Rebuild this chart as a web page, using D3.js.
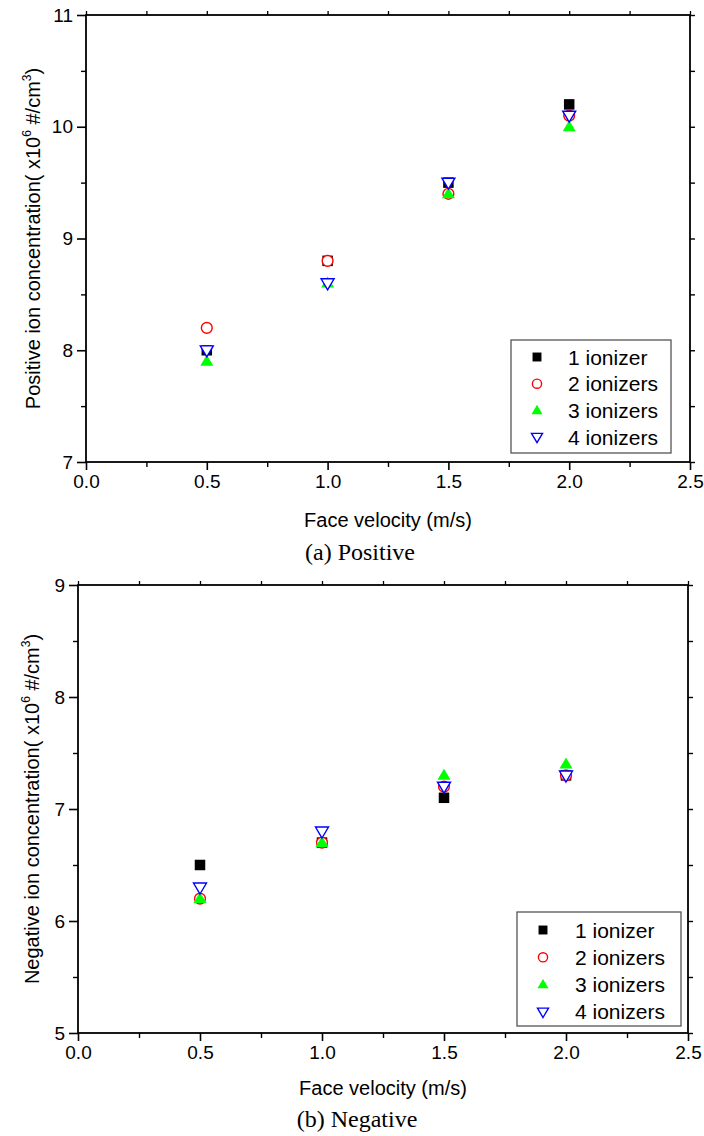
<!DOCTYPE html>
<html>
<head>
<meta charset="utf-8">
<script src="https://cdn.jsdelivr.net/npm/d3@7"></script>
<style>
html,body{margin:0;padding:0;background:#fff;}
svg{display:block;}
</style>
</head>
<body>
<svg id="chart" width="704" height="1136"></svg>
<script>
// ---- data ----
const velocities = [0.5, 1.0, 1.5, 2.0];
const seriesNames = ["1 ionizer", "2 ionizers", "3 ionizers", "4 ionizers"];
const positive1 = [8.0, 8.8, 9.5, 10.2];
const positive2 = [8.2, 8.8, 9.4, 10.1];
const positive3 = [7.9, 8.6, 9.4, 10.0];
const positive4 = [8.0, 8.6, 9.5, 10.1];
const negative1 = [6.5, 6.7, 7.1, 7.3];
const negative2 = [6.2, 6.7, 7.2, 7.3];
const negative3 = [6.2, 6.7, 7.3, 7.4];
const negative4 = [6.3, 6.8, 7.2, 7.3];
const xTicks = [0.0, 0.5, 1.0, 1.5, 2.0, 2.5];
const posYTicks = [7, 8, 9, 10, 11];
const negYTicks = [5, 6, 7, 8, 9];

const SANS = "'Liberation Sans', Arial, sans-serif";
const SERIF = "'Liberation Serif', 'Times New Roman', serif";
const svg = d3.select("#chart");

const markerStyles = [
  {type: "square", fill: "#000", stroke: "none"},
  {type: "circle", fill: "#fff", stroke: "#ff0000"},
  {type: "up", fill: "#00ff00", stroke: "none"},
  {type: "down", fill: "#fff", stroke: "#0000ff"}
];

function triPath(dir, w, h) {
  if (dir === "up") return `M0,${-h*0.6}L${w/2},${h*0.4}L${-w/2},${h*0.4}Z`;
  return `M0,${h*0.6}L${w/2},${-h*0.4}L${-w/2},${-h*0.4}Z`;
}

function drawMarker(g, i, k) {
  const s = markerStyles[i];
  if (s.type === "up") {
    g.append("path").attr("d", triPath("up", 13 * k, 11 * k)).attr("fill", s.fill);
  } else if (s.type === "down") {
    g.append("path").attr("d", triPath("down", 13 * k, 11 * k)).attr("fill", s.fill)
      .attr("stroke", s.stroke).attr("stroke-width", 1.4);
  } else if (s.type === "circle") {
    g.append("circle").attr("r", 5.4 * k).attr("fill", s.fill)
      .attr("stroke", s.stroke).attr("stroke-width", 1.4);
  } else {
    const a = 10.5 * k;
    g.append("rect").attr("x", -a / 2).attr("y", -a / 2).attr("width", a).attr("height", a)
      .attr("fill", s.fill);
  }
}

function styleText(sel, size) {
  sel.style("font-family", SANS).style("font-size", size + "px").attr("fill", "#000");
}

function drawPanel(cfg) {
  const x = d3.scaleLinear().domain([0, 2.5]).range([cfg.left, cfg.right]);
  const y = d3.scaleLinear().domain(cfg.yDomain).range([cfg.bottom, cfg.top]);
  const g = svg.append("g");

  const xMinor = d3.range(0.25, 2.5, 0.5);
  const yMinor = d3.range(cfg.yDomain[0] + 0.5, cfg.yDomain[1], 1);

  // bottom axis
  const xa = g.append("g").attr("transform", `translate(0,${cfg.bottom})`)
    .call(d3.axisBottom(x).tickValues(cfg.xTicks).tickFormat(d3.format(".1f"))
      .tickSizeOuter(0).tickSizeInner(8).tickPadding(5));
  xa.select(".domain").remove();
  xa.selectAll("line").attr("stroke-width", 1.6);
  styleText(xa.selectAll("text"), 19);
  const xm = g.append("g").attr("transform", `translate(0,${cfg.bottom})`)
    .call(d3.axisBottom(x).tickValues(xMinor).tickFormat("").tickSizeOuter(0).tickSizeInner(5));
  xm.select(".domain").remove();
  xm.selectAll("line").attr("stroke-width", 1.4);

  // top axis ticks (mirror)
  const xt = g.append("g").attr("transform", `translate(0,${cfg.top})`)
    .call(d3.axisTop(x).tickValues(cfg.xTicks.concat(xMinor)).tickFormat("").tickSizeOuter(0).tickSizeInner(4));
  xt.select(".domain").remove();
  xt.selectAll("line").attr("stroke-width", 1.3);

  // left axis
  const ya = g.append("g").attr("transform", `translate(${cfg.left},0)`)
    .call(d3.axisLeft(y).tickValues(cfg.yTicks).tickFormat(d3.format("d"))
      .tickSizeOuter(0).tickSizeInner(9).tickPadding(4));
  ya.select(".domain").remove();
  ya.selectAll("line").attr("stroke-width", 1.6);
  styleText(ya.selectAll("text"), 19);
  const ym = g.append("g").attr("transform", `translate(${cfg.left},0)`)
    .call(d3.axisLeft(y).tickValues(yMinor).tickFormat("").tickSizeOuter(0).tickSizeInner(5));
  ym.select(".domain").remove();
  ym.selectAll("line").attr("stroke-width", 1.4);

  // right axis ticks
  const yr = g.append("g").attr("transform", `translate(${cfg.right},0)`)
    .call(d3.axisRight(y).tickValues(cfg.yTicks.concat(yMinor)).tickFormat("").tickSizeOuter(0).tickSizeInner(5));
  yr.select(".domain").remove();
  yr.selectAll("line").attr("stroke-width", 1.4);

  // frame
  g.append("rect").attr("x", cfg.left).attr("y", cfg.top)
    .attr("width", cfg.right - cfg.left).attr("height", cfg.bottom - cfg.top)
    .attr("fill", "none").attr("stroke", "#000").attr("stroke-width", 1.8);

  // data markers
  cfg.series.forEach((vals, i) => {
    velocities.forEach((v, j) => {
      const mg = g.append("g").attr("transform", `translate(${x(v)},${y(vals[j])})`);
      drawMarker(mg, i, 1);
    });
  });

  // legend
  const L = cfg.legend;
  const lg = g.append("g");
  lg.append("rect").attr("x", L.x).attr("y", L.y).attr("width", L.w).attr("height", L.h)
    .attr("fill", "#fff").attr("stroke", "#555").attr("stroke-width", 1.3);
  seriesNames.forEach((name, i) => {
    const cy = L.y + L.row0 + i * L.dy;
    const mg = lg.append("g").attr("transform", `translate(${L.x + L.mx},${cy})`);
    drawMarker(mg, i, 0.85);
    styleText(lg.append("text").attr("x", L.x + L.tx).attr("y", cy + 7.5).text(name), 21);
  });

  // y title
  const yt = g.append("text")
    .attr("transform", `translate(${cfg.yTitleX},${(cfg.top + cfg.bottom) / 2}) rotate(-90)`)
    .attr("text-anchor", "middle");
  styleText(yt, 20);
  yt.append("tspan").text(cfg.yTitle + "( x10");
  yt.append("tspan").style("font-size", "12px").attr("dy", -9).text("6");
  yt.append("tspan").attr("dy", 9).text(" #/cm");
  yt.append("tspan").style("font-size", "12px").attr("dy", -9).text("3");
  yt.append("tspan").attr("dy", 9).text(")");

  // x title
  styleText(g.append("text").attr("x", (cfg.left + cfg.right) / 2).attr("y", cfg.xTitleY)
    .attr("text-anchor", "middle").text("Face velocity (m/s)"), 20);

  // caption
  g.append("text").attr("x", cfg.captionX).attr("y", cfg.captionY)
    .attr("text-anchor", "middle").attr("fill", "#000")
    .style("font-family", SERIF).style("font-size", "24px")
    .text(cfg.caption);
}

drawPanel({
  left: 86, right: 690, top: 15, bottom: 462,
  yDomain: [7, 11], yTicks: posYTicks, xTicks: xTicks,
  series: [positive1, positive2, positive3, positive4],
  yTitle: "Positive ion concentration", yTitleX: 40,
  xTitleY: 527, caption: "(a) Positive", captionX: 360, captionY: 560,
  legend: {x: 511, y: 340, w: 160, h: 113, row0: 17, dy: 26.7, mx: 26, tx: 57}
});

drawPanel({
  left: 78, right: 688, top: 585, bottom: 1033,
  yDomain: [5, 9], yTicks: negYTicks, xTicks: xTicks,
  series: [negative1, negative2, negative3, negative4],
  yTitle: "Negative ion concentration", yTitleX: 39,
  xTitleY: 1095, caption: "(b) Negative", captionX: 357, captionY: 1127,
  legend: {x: 517, y: 912, w: 164, h: 114, row0: 18, dy: 27.3, mx: 26, tx: 58}
});
</script>
</body>
</html>
